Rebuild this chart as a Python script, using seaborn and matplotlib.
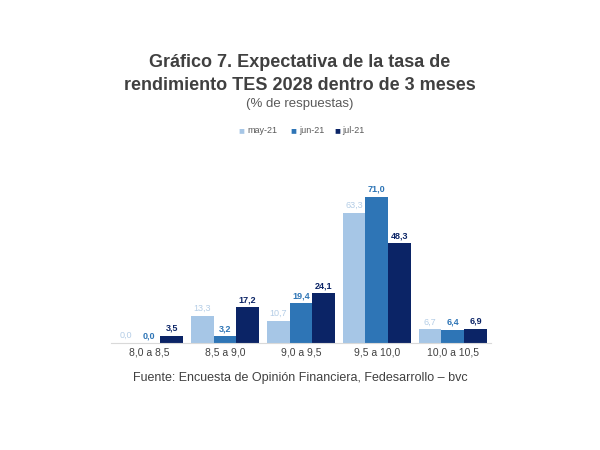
import pandas as pd
import matplotlib.pyplot as plt
import seaborn as sns

# ——— Data ———
rangos = ["8,0 a 8,5", "8,5 a 9,0", "9,0 a 9,5", "9,5 a 10,0", "10,0 a 10,5"]
meses = ["may-21", "jun-21", "jul-21"]
may_21 = [0.0, 13.3, 10.7, 63.3, 6.7]
jun_21 = [0.0, 3.2, 19.4, 71.0, 6.4]
jul_21 = [3.5, 17.2, 24.1, 48.3, 6.9]

colores = ["#A6C6E6", "#2E75B6", "#0B2466"]
etiquetas_col = ["#B4CDE6", "#2E75B6", "#0B2466"]

df = pd.DataFrame({
    "rango": rangos * 3,
    "mes": [m for m in meses for _ in rangos],
    "valor": may_21 + jun_21 + jul_21,
})

sns.set_theme(style="white")
plt.rcParams['font.family'] = ['Liberation Sans', 'DejaVu Sans']

fig = plt.figure(figsize=(6, 4.5), dpi=100)
ax = fig.add_axes([0.185, 0.238, 0.633, 0.366])

sns.barplot(data=df, x="rango", y="valor", hue="mes", order=rangos,
            hue_order=meses, palette=colores, width=0.9, gap=0,
            saturation=1, linewidth=0, legend=False, ax=ax)

# data labels
for cont, col, w in zip(ax.containers, etiquetas_col, ["normal", "bold", "bold"]):
    labels = [f"{v:.1f}".replace(".", ",") for v in cont.datavalues]
    ax.bar_label(cont, labels=labels, padding=2, fontsize=6.5,
                 color=col, fontweight=w)

ax.set_xlim(-0.5, 4.5)
ax.set_ylim(0, 80)
ax.set_xlabel("")
ax.set_ylabel("")
ax.set_yticks([])
for s in ["top", "right", "left"]:
    ax.spines[s].set_visible(False)
ax.spines["bottom"].set_color("#D9D9D9")
ax.spines["bottom"].set_linewidth(0.8)
ax.tick_params(axis="x", length=0, pad=3.5, labelsize=7.5, labelcolor="#404040")

# ——— Texts ———
fig.text(0.5, 0.862, "Gráfico 7. Expectativa de la tasa de", ha="center",
         va="center", fontsize=13, fontweight="bold", color="#404040")
fig.text(0.5, 0.811, "rendimiento TES 2028 dentro de 3 meses", ha="center",
         va="center", fontsize=13, fontweight="bold", color="#404040")
fig.text(0.5, 0.769, "(% de respuestas)", ha="center", va="center",
         fontsize=9.5, color="#595959")

# legend
leg_x = [0.398, 0.484, 0.557]
for x, m, c in zip(leg_x, meses, colores):
    fig.text(x, 0.711, "\u25A0", ha="left", va="center", fontsize=7, color=c)
    fig.text(x + 0.014, 0.711, m, ha="left", va="center", fontsize=6.5,
             color="#595959")

fig.text(0.5, 0.16, "Fuente: Encuesta de Opinión Financiera, Fedesarrollo – bvc",
         ha="center", va="center", fontsize=9, color="#404040")

fig.savefig("out.png", dpi=100, facecolor="white")
